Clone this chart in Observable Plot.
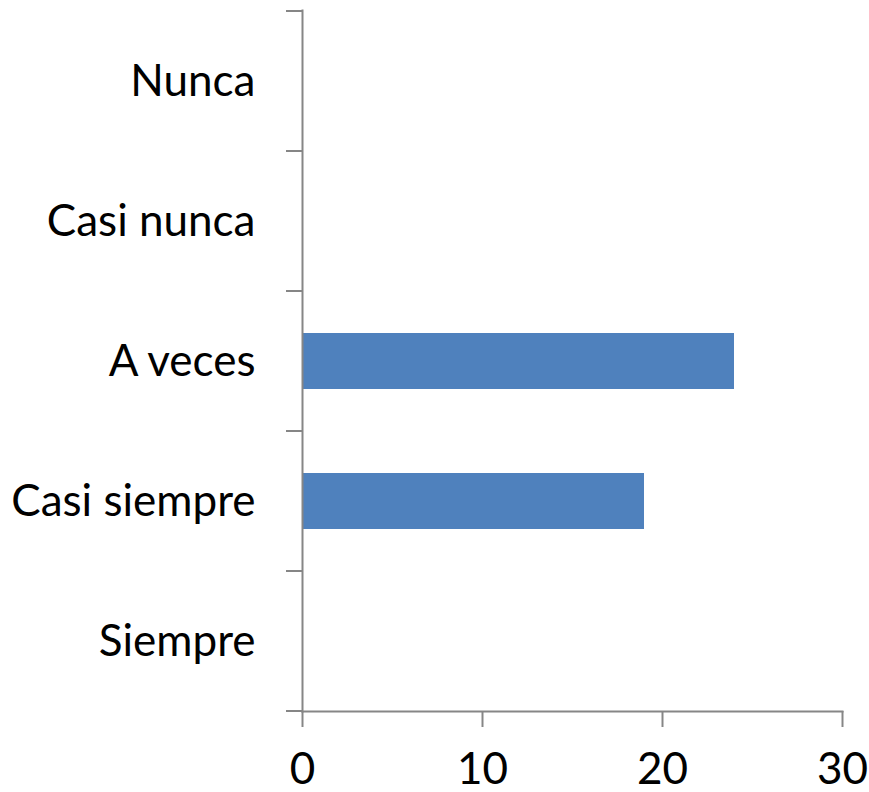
<!DOCTYPE html>
<html><head><meta charset="utf-8">
<script src="https://cdn.jsdelivr.net/npm/d3@7"></script>
<script src="https://cdn.jsdelivr.net/npm/@observablehq/plot@0.6"></script>
<style>body{margin:0;background:#fff}</style>
</head><body><div id="chart"></div>
<script>
const categories = ["Nunca", "Casi nunca", "A veces", "Casi siempre", "Siempre"];
const values = [0, 0, 24, 19, 0];
const xTicks = [0, 10, 20, 30];
const xDomain = [0, 30];

const data = categories.map((c, i) => ({cat: c, value: values[i]}));
const axisColor = "#868686";
const barColor = "#4F81BD";

function boundaryTicks(index, scales, vals, dimensions, context) {
  const y = scales.y;
  const ys = categories.map(c => y(c));
  const step = ys[1] - ys[0];
  const bw = typeof y.bandwidth === "function" ? y.bandwidth() : step * 0.4;
  const half = (step - bw) / 2;
  const bounds = ys.map(v => v - half);
  bounds.push(ys[ys.length - 1] + bw + half);
  const x0 = scales.x(0);
  const g = d3.create("svg:g");
  g.selectAll("line").data(bounds).join("line")
    .attr("x1", x0 - 16).attr("x2", x0)
    .attr("y1", d => d).attr("y2", d => d)
    .attr("stroke", axisColor).attr("stroke-width", 2);
  return g.node();
}

const chart = Plot.plot({
  width: 869, height: 792,
  marginLeft: 302, marginTop: 10, marginBottom: 81, marginRight: 27,
  style: {fontFamily: "Lato, 'Open Sans', sans-serif", fontSize: "44px", color: "#000", background: "#fff"},
  x: {domain: xDomain, ticks: xTicks},
  y: {domain: categories, paddingInner: 0.6, paddingOuter: 0.3},
  marks: [
    Plot.barX(data, {y: "cat", x: "value", fill: barColor}),
    Plot.frame({anchor: "left", stroke: axisColor, strokeWidth: 2}),
    Plot.frame({anchor: "bottom", stroke: axisColor, strokeWidth: 2}),
    boundaryTicks,
    Plot.axisX({ticks: xTicks, tickSize: 16, tickPadding: 25, stroke: axisColor, strokeWidth: 2, fill: "#000", label: null}),
    Plot.axisY({tickSize: 0, tickPadding: 47, fill: "#000", label: null})
  ]
});
document.getElementById("chart").append(chart);
</script>
</body></html>
